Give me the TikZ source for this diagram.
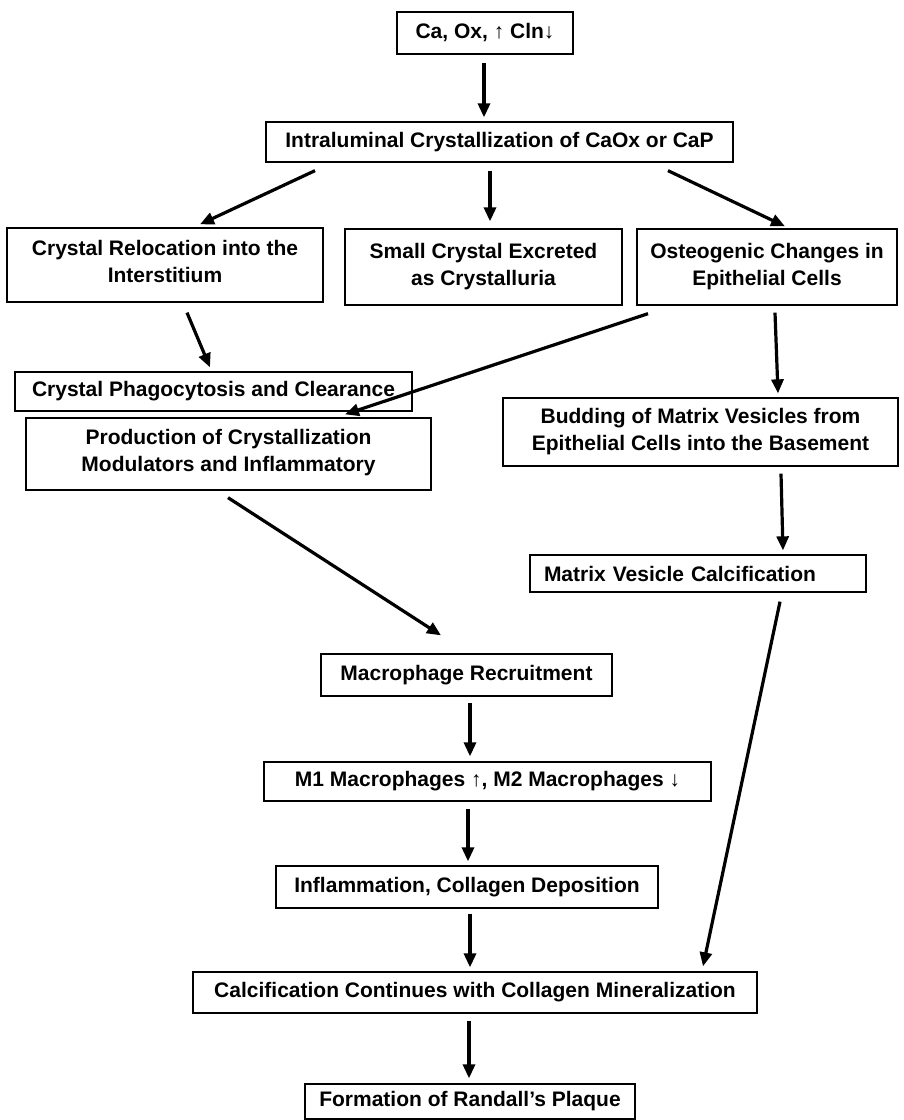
\documentclass[tikz,border=0pt]{standalone}
\usepackage{fontspec}
\setmainfont{Liberation Sans}
\usetikzlibrary{calc,arrows.meta}
\begin{document}
\begin{tikzpicture}[x=1pt,y=-1pt,
  box/.style={draw,line width=1.3pt,align=center,inner sep=0pt,
    font=\fontsize{21}{27}\selectfont\bfseries},
  arr/.style={line width=3.2pt,-{Triangle[length=14pt,width=12pt]}}]
\useasboundingbox[fill=white] (0,0) rectangle (904,1120);
% boxes (centre, width, height)
\node[box,minimum width=176,minimum height=42] (top) at (485,33) {Ca, Ox, ↑ Cln↓};
\node[box,minimum width=467,minimum height=40] (intra) at (499.5,142) {Intraluminal Crystallization of CaOx or CaP};
\node[box,minimum width=316,minimum height=74] (reloc) at (165,265) {Crystal Relocation into the\\Interstitium\strut};
\node[box,minimum width=277,minimum height=76] (small) at (483.5,267) {Small Crystal Excreted\\as Crystalluria};
\node[box,minimum width=260,minimum height=76] (osteo) at (767,267) {Osteogenic Changes in\\Epithelial Cells};
\node[box,minimum width=397,minimum height=39] (phago) at (213.5,391.5) {Crystal Phagocytosis and Clearance};
\node[box,minimum width=395,minimum height=68] (bud) at (700.5,432) {Budding of Matrix Vesicles from\\Epithelial Cells into the Basement};
\node[box,minimum width=405,minimum height=72] (prod) at (228.5,454) {Production of Crystallization\\Modulators and Inflammatory\strut};
\node[box,minimum width=336,minimum height=37,text width=308,align=left,inner xsep=14pt] (mvc) at (698,573.5) {Matrix Vesicle Calcification};
\node[box,minimum width=291,minimum height=42] (macro) at (466.5,675) {Macrophage Recruitment};
\node[box,minimum width=447,minimum height=39] (m1) at (487.5,781.5) {M1 Macrophages ↑, M2 Macrophages ↓};
\node[box,minimum width=382,minimum height=42] (infl) at (467,887) {Inflammation, Collagen Deposition};
\node[box,minimum width=564,minimum height=41] (calc) at (475,992.5) {Calcification Continues with Collagen Mineralization};
\node[box,minimum width=330,minimum height=35] (form) at (470,1101.5) {Formation of Randall’s Plaque};
% arrows
\draw[arr] ($(top.south)+(-1,8)$) -- ($(intra.north)+(-15.5,-4)$);
\draw[arr] ($(intra.south)+(-184.5,8)$) -- ($(reloc.north)+(35,-3)$);
\draw[arr] ($(intra.south)+(-9.5,8)$) -- ($(small.north)+(6.5,-7)$);
\draw[arr] ($(intra.south)+(168.5,8)$) -- ($(osteo.north)+(18,-2)$);
\draw[arr] ($(reloc.south)+(22,10)$) -- ($(phago.north)+(-3.5,-4)$);
\draw[arr] ($(osteo.south)+(-119,8)$) -- ($(prod.north)+(116.5,-3)$);
\draw[arr] ($(osteo.south)+(8,7)$) -- ($(bud.north)+(77.5,-4)$);
\draw[arr] ($(prod.south)+(-0.5,7)$) -- ($(macro.north)+(-25.5,-18)$);
\draw[arr] ($(bud.south)+(80.5,7)$) -- ($(mvc.north)+(85,-4)$);
\draw[arr] ($(macro.south)+(3.5,6)$) -- ($(m1.north)+(-17.5,-5)$);
\draw[arr] ($(m1.south)+(-19.5,7)$) -- ($(infl.north)+(1,-4)$);
\draw[arr] ($(infl.south)+(3,5)$) -- ($(calc.north)+(-5,-4)$);
\draw[arr] ($(mvc.south)+(82,9)$) -- ($(calc.north)+(228,-5)$);
\draw[arr] ($(calc.south)+(-6,7)$) -- ($(form.north)+(-1,-5)$);
\end{tikzpicture}
\end{document}
